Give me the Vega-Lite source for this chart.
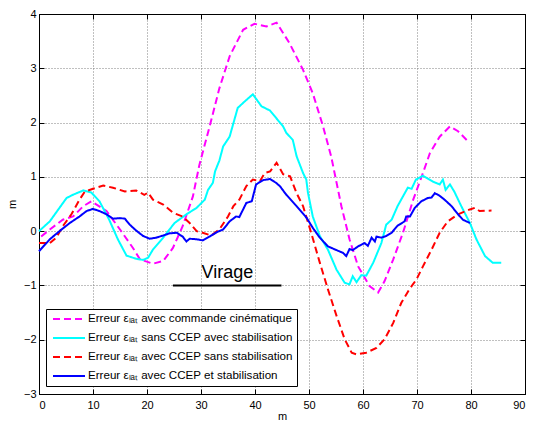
{
  "$schema": "https://vega.github.io/schema/vega-lite/v6.json",
  "width": 486,
  "height": 380,
  "autosize": "none",
  "padding": {"left": 39, "top": 14, "right": 9, "bottom": 27},
  "background": "white",
  "config": {
    "font": "Liberation Sans",
    "view": {"stroke": "black", "strokeWidth": 1},
    "axis": {
      "domainColor": "black",
      "tickColor": "black",
      "labelColor": "black",
      "labelFontSize": 11,
      "titleFontSize": 11,
      "titleFontWeight": "normal",
      "titleColor": "black",
      "gridColor": "#808080",
      "gridDash": [1, 2],
      "gridWidth": 1,
      "tickSize": -5
    }
  },
  "resolve": {"axis": {"x": "independent", "y": "independent"}},
  "layer": [
    {
      "data": {"values": [
        {"s":"A","x":0.4,"y":-0.10},{"s":"A","x":2.0,"y":0.03},{"s":"A","x":4.4,"y":0.21},{"s":"A","x":6.3,"y":0.27},{"s":"A","x":8.2,"y":0.46},{"s":"A","x":9.7,"y":0.55},{"s":"A","x":12.5,"y":0.37},{"s":"A","x":15.0,"y":0.03},{"s":"A","x":17.4,"y":-0.31},{"s":"A","x":18.7,"y":-0.52},{"s":"A","x":21.1,"y":-0.60},{"s":"A","x":23.0,"y":-0.55},{"s":"A","x":24.8,"y":-0.31},{"s":"A","x":26.6,"y":0.09},{"s":"A","x":28.5,"y":0.64},{"s":"A","x":29.7,"y":1.22},{"s":"A","x":31.6,"y":1.93},{"s":"A","x":33.4,"y":2.63},{"s":"A","x":35.3,"y":3.22},{"s":"A","x":37.8,"y":3.71},{"s":"A","x":39.9,"y":3.82},{"s":"A","x":42.1,"y":3.77},{"s":"A","x":44.0,"y":3.84},{"s":"A","x":46.4,"y":3.46},{"s":"A","x":48.9,"y":2.97},{"s":"A","x":50.7,"y":2.54},{"s":"A","x":52.6,"y":1.93},{"s":"A","x":54.1,"y":1.38},{"s":"A","x":55.4,"y":0.75},{"s":"A","x":56.0,"y":0.46},{"s":"A","x":57.5,"y":-0.15},{"s":"A","x":59.1,"y":-0.65},{"s":"A","x":61.2,"y":-1.01},{"s":"A","x":62.8,"y":-1.13},{"s":"A","x":64.0,"y":-0.92},{"s":"A","x":65.6,"y":-0.52},{"s":"A","x":67.4,"y":-0.03},{"s":"A","x":69.3,"y":0.58},{"s":"A","x":71.1,"y":1.07},{"s":"A","x":72.4,"y":1.44},{"s":"A","x":74.2,"y":1.74},{"s":"A","x":76.1,"y":1.93},{"s":"A","x":77.6,"y":1.84},{"s":"A","x":79.2,"y":1.68},
        {"s":"B","x":0.0,"y":0.0},{"s":"B","x":2.0,"y":0.18},{"s":"B","x":3.8,"y":0.43},{"s":"B","x":5.1,"y":0.61},{"s":"B","x":6.3,"y":0.67},{"s":"B","x":8.2,"y":0.75},{"s":"B","x":9.7,"y":0.71},{"s":"B","x":11.2,"y":0.55},{"s":"B","x":13.0,"y":0.21},{"s":"B","x":14.6,"y":-0.15},{"s":"B","x":16.2,"y":-0.45},{"s":"B","x":18.0,"y":-0.51},{"s":"B","x":19.3,"y":-0.53},{"s":"B","x":20.2,"y":-0.49},{"s":"B","x":21.1,"y":-0.34},{"s":"B","x":23.0,"y":-0.12},{"s":"B","x":25.1,"y":0.15},{"s":"B","x":27.3,"y":0.31},{"s":"B","x":29.2,"y":0.43},{"s":"B","x":30.7,"y":0.58},{"s":"B","x":31.3,"y":0.76},{"s":"B","x":32.2,"y":0.89},{"s":"B","x":32.6,"y":1.10},{"s":"B","x":33.4,"y":1.30},{"s":"B","x":34.1,"y":1.56},{"s":"B","x":35.3,"y":1.74},{"s":"B","x":36.8,"y":2.27},{"s":"B","x":38.1,"y":2.39},{"s":"B","x":39.6,"y":2.52},{"s":"B","x":41.2,"y":2.30},{"s":"B","x":42.8,"y":2.22},{"s":"B","x":44.2,"y":2.05},{"s":"B","x":45.2,"y":1.93},{"s":"B","x":45.8,"y":1.81},{"s":"B","x":47.0,"y":1.68},{"s":"B","x":47.7,"y":1.38},{"s":"B","x":48.9,"y":1.07},{"s":"B","x":49.5,"y":0.95},{"s":"B","x":49.8,"y":0.71},{"s":"B","x":50.7,"y":0.27},{"s":"B","x":52.0,"y":-0.09},{"s":"B","x":53.5,"y":-0.34},{"s":"B","x":55.1,"y":-0.71},{"s":"B","x":56.6,"y":-0.95},{"s":"B","x":57.5,"y":-0.98},{"s":"B","x":58.1,"y":-0.83},{"s":"B","x":58.8,"y":-0.94},{"s":"B","x":59.7,"y":-0.81},{"s":"B","x":60.6,"y":-0.82},{"s":"B","x":61.9,"y":-0.58},{"s":"B","x":63.4,"y":-0.22},{"s":"B","x":64.3,"y":0.12},{"s":"B","x":65.3,"y":0.21},{"s":"B","x":66.4,"y":0.46},{"s":"B","x":68.3,"y":0.80},{"s":"B","x":69.0,"y":0.78},{"s":"B","x":69.8,"y":0.95},{"s":"B","x":71.1,"y":1.02},{"s":"B","x":73.0,"y":0.91},{"s":"B","x":74.2,"y":0.86},{"s":"B","x":74.8,"y":0.95},{"s":"B","x":75.3,"y":0.76},{"s":"B","x":76.1,"y":0.86},{"s":"B","x":76.9,"y":0.73},{"s":"B","x":78.2,"y":0.46},{"s":"B","x":79.8,"y":0.15},{"s":"B","x":81.0,"y":-0.15},{"s":"B","x":82.6,"y":-0.46},{"s":"B","x":84.0,"y":-0.58},{"s":"B","x":85.6,"y":-0.58},
        {"s":"C","x":0.0,"y":-0.22},{"s":"C","x":2.0,"y":-0.22},{"s":"C","x":3.2,"y":-0.12},{"s":"C","x":4.4,"y":0.09},{"s":"C","x":6.0,"y":0.31},{"s":"C","x":7.5,"y":0.58},{"s":"C","x":8.5,"y":0.73},{"s":"C","x":10.0,"y":0.78},{"s":"C","x":11.9,"y":0.84},{"s":"C","x":13.7,"y":0.80},{"s":"C","x":15.9,"y":0.73},{"s":"C","x":18.0,"y":0.75},{"s":"C","x":19.5,"y":0.67},{"s":"C","x":20.2,"y":0.71},{"s":"C","x":21.1,"y":0.58},{"s":"C","x":23.0,"y":0.49},{"s":"C","x":24.8,"y":0.34},{"s":"C","x":26.6,"y":0.27},{"s":"C","x":27.9,"y":0.15},{"s":"C","x":29.2,"y":0.0},{"s":"C","x":30.3,"y":-0.03},{"s":"C","x":31.9,"y":-0.08},{"s":"C","x":33.4,"y":0.03},{"s":"C","x":35.0,"y":0.27},{"s":"C","x":36.0,"y":0.46},{"s":"C","x":37.1,"y":0.58},{"s":"C","x":38.4,"y":0.83},{"s":"C","x":39.6,"y":0.95},{"s":"C","x":40.9,"y":0.92},{"s":"C","x":41.8,"y":1.07},{"s":"C","x":42.8,"y":1.10},{"s":"C","x":44.0,"y":1.26},{"s":"C","x":45.2,"y":1.05},{"s":"C","x":46.5,"y":1.01},{"s":"C","x":47.7,"y":0.70},{"s":"C","x":48.9,"y":0.46},{"s":"C","x":50.4,"y":-0.03},{"s":"C","x":52.0,"y":-0.58},{"s":"C","x":53.5,"y":-1.07},{"s":"C","x":55.1,"y":-1.56},{"s":"C","x":56.6,"y":-1.99},{"s":"C","x":57.9,"y":-2.24},{"s":"C","x":58.8,"y":-2.27},{"s":"C","x":60.6,"y":-2.24},{"s":"C","x":62.5,"y":-2.15},{"s":"C","x":64.0,"y":-1.99},{"s":"C","x":65.6,"y":-1.69},{"s":"C","x":67.1,"y":-1.32},{"s":"C","x":68.6,"y":-1.07},{"s":"C","x":69.9,"y":-0.89},{"s":"C","x":71.1,"y":-0.65},{"s":"C","x":72.7,"y":-0.34},{"s":"C","x":74.2,"y":-0.03},{"s":"C","x":75.7,"y":0.18},{"s":"C","x":77.6,"y":0.31},{"s":"C","x":79.8,"y":0.40},{"s":"C","x":80.7,"y":0.43},{"s":"C","x":81.6,"y":0.37},{"s":"C","x":83.8,"y":0.38},
        {"s":"D","x":0.0,"y":-0.37},{"s":"D","x":2.0,"y":-0.15},{"s":"D","x":3.8,"y":0.0},{"s":"D","x":5.7,"y":0.15},{"s":"D","x":7.5,"y":0.27},{"s":"D","x":8.8,"y":0.37},{"s":"D","x":10.0,"y":0.41},{"s":"D","x":11.2,"y":0.37},{"s":"D","x":12.5,"y":0.31},{"s":"D","x":13.7,"y":0.23},{"s":"D","x":15.0,"y":0.24},{"s":"D","x":15.9,"y":0.23},{"s":"D","x":16.8,"y":0.12},{"s":"D","x":18.0,"y":0.01},{"s":"D","x":19.3,"y":-0.09},{"s":"D","x":20.5,"y":-0.14},{"s":"D","x":21.7,"y":-0.12},{"s":"D","x":23.0,"y":-0.08},{"s":"D","x":24.2,"y":-0.04},{"s":"D","x":25.5,"y":-0.03},{"s":"D","x":26.6,"y":-0.10},{"s":"D","x":27.3,"y":-0.19},{"s":"D","x":27.9,"y":-0.14},{"s":"D","x":29.2,"y":-0.15},{"s":"D","x":30.3,"y":-0.17},{"s":"D","x":31.6,"y":-0.10},{"s":"D","x":32.9,"y":-0.02},{"s":"D","x":34.1,"y":0.03},{"s":"D","x":35.3,"y":0.18},{"s":"D","x":36.5,"y":0.27},{"s":"D","x":37.1,"y":0.26},{"s":"D","x":38.4,"y":0.52},{"s":"D","x":39.4,"y":0.55},{"s":"D","x":40.2,"y":0.86},{"s":"D","x":41.5,"y":0.94},{"s":"D","x":42.8,"y":0.96},{"s":"D","x":43.9,"y":0.89},{"s":"D","x":44.6,"y":0.83},{"s":"D","x":45.8,"y":0.67},{"s":"D","x":47.7,"y":0.46},{"s":"D","x":49.6,"y":0.24},{"s":"D","x":50.7,"y":0.06},{"s":"D","x":52.0,"y":-0.12},{"s":"D","x":53.5,"y":-0.28},{"s":"D","x":55.1,"y":-0.35},{"s":"D","x":56.3,"y":-0.40},{"s":"D","x":56.9,"y":-0.46},{"s":"D","x":57.5,"y":-0.33},{"s":"D","x":58.1,"y":-0.35},{"s":"D","x":59.1,"y":-0.28},{"s":"D","x":60.3,"y":-0.22},{"s":"D","x":60.9,"y":-0.27},{"s":"D","x":61.6,"y":-0.12},{"s":"D","x":62.2,"y":-0.19},{"s":"D","x":62.5,"y":-0.10},{"s":"D","x":63.4,"y":-0.12},{"s":"D","x":64.3,"y":-0.09},{"s":"D","x":65.3,"y":-0.03},{"s":"D","x":66.4,"y":0.10},{"s":"D","x":67.7,"y":0.18},{"s":"D","x":68.0,"y":0.27},{"s":"D","x":68.7,"y":0.27},{"s":"D","x":69.6,"y":0.43},{"s":"D","x":70.8,"y":0.55},{"s":"D","x":72.0,"y":0.61},{"s":"D","x":72.7,"y":0.62},{"s":"D","x":73.3,"y":0.70},{"s":"D","x":74.2,"y":0.65},{"s":"D","x":75.1,"y":0.58},{"s":"D","x":76.4,"y":0.46},{"s":"D","x":77.6,"y":0.31},{"s":"D","x":78.5,"y":0.21},{"s":"D","x":79.8,"y":0.15}
      ]},
      "mark": {"type": "line", "strokeWidth": 2},
      "encoding": {
        "x": {"field": "x", "type": "quantitative", "scale": {"domain": [0, 90], "nice": false},
              "axis": {"values": [0,10,20,30,40,50,60,70,80,90], "title": "m", "labelPadding": 10, "titlePadding": 0, "grid": true}},
        "y": {"field": "y", "type": "quantitative", "scale": {"domain": [-3, 4], "nice": false},
              "axis": {"values": [-3,-2,-1,0,1,2,3,4], "title": "m", "labelPadding": 8, "titlePadding": 6, "grid": true}},
        "color": {"field": "s", "type": "nominal",
          "scale": {"domain": ["A","B","C","D"], "range": ["#FF00FF","#00FFFF","#FF0000","#0000FF"]},
          "legend": {
            "title": null, "orient": "none", "legendX": 7, "legendY": 295,
            "labelExpr": "datum.label == 'A' ? 'Erreur εₗₐₜ avec commande cinématique' : datum.label == 'B' ? 'Erreur εₗₐₜ sans CCEP avec stabilisation' : datum.label == 'C' ? 'Erreur εₗₐₜ avec CCEP sans stabilisation' : 'Erreur εₗₐₜ avec CCEP et stabilisation'",
            "symbolType": "M-3.2,0L3.2,0", "symbolSize": 100, "symbolStrokeWidth": 2,
            "symbolOffset": 13, "labelOffset": 13, "labelFontSize": 11.6, "labelColor": "black", "labelLimit": 400,
            "rowPadding": 7, "padding": 4, "strokeColor": "black", "fillColor": "white"
          }},
        "strokeDash": {"field": "s", "type": "nominal",
          "scale": {"domain": ["A","B","C","D"], "range": [[7,4],[1,0],[7,4],[1,0]]},
          "legend": null}
      }
    },
    {
      "data": {"values": [{"x": 34.9, "y": -0.86, "label": "Virage"}]},
      "mark": {"type": "text", "fontSize": 18, "align": "center", "baseline": "alphabetic", "color": "black"},
      "encoding": {
        "x": {"field": "x", "type": "quantitative", "axis": null},
        "y": {"field": "y", "type": "quantitative", "axis": null},
        "text": {"field": "label"}
      }
    },
    {
      "data": {"values": [{"x": 24.8, "x2": 44.9, "y": -1}]},
      "mark": {"type": "rule", "strokeWidth": 2, "color": "black"},
      "encoding": {
        "x": {"field": "x", "type": "quantitative", "axis": {"orient": "top", "values": [0,10,20,30,40,50,60,70,80,90], "labels": false, "title": null, "grid": false}},
        "x2": {"field": "x2"},
        "y": {"field": "y", "type": "quantitative", "axis": {"orient": "right", "values": [-3,-2,-1,0,1,2,3,4], "labels": false, "title": null, "grid": false}}
      }
    }
  ]
}
